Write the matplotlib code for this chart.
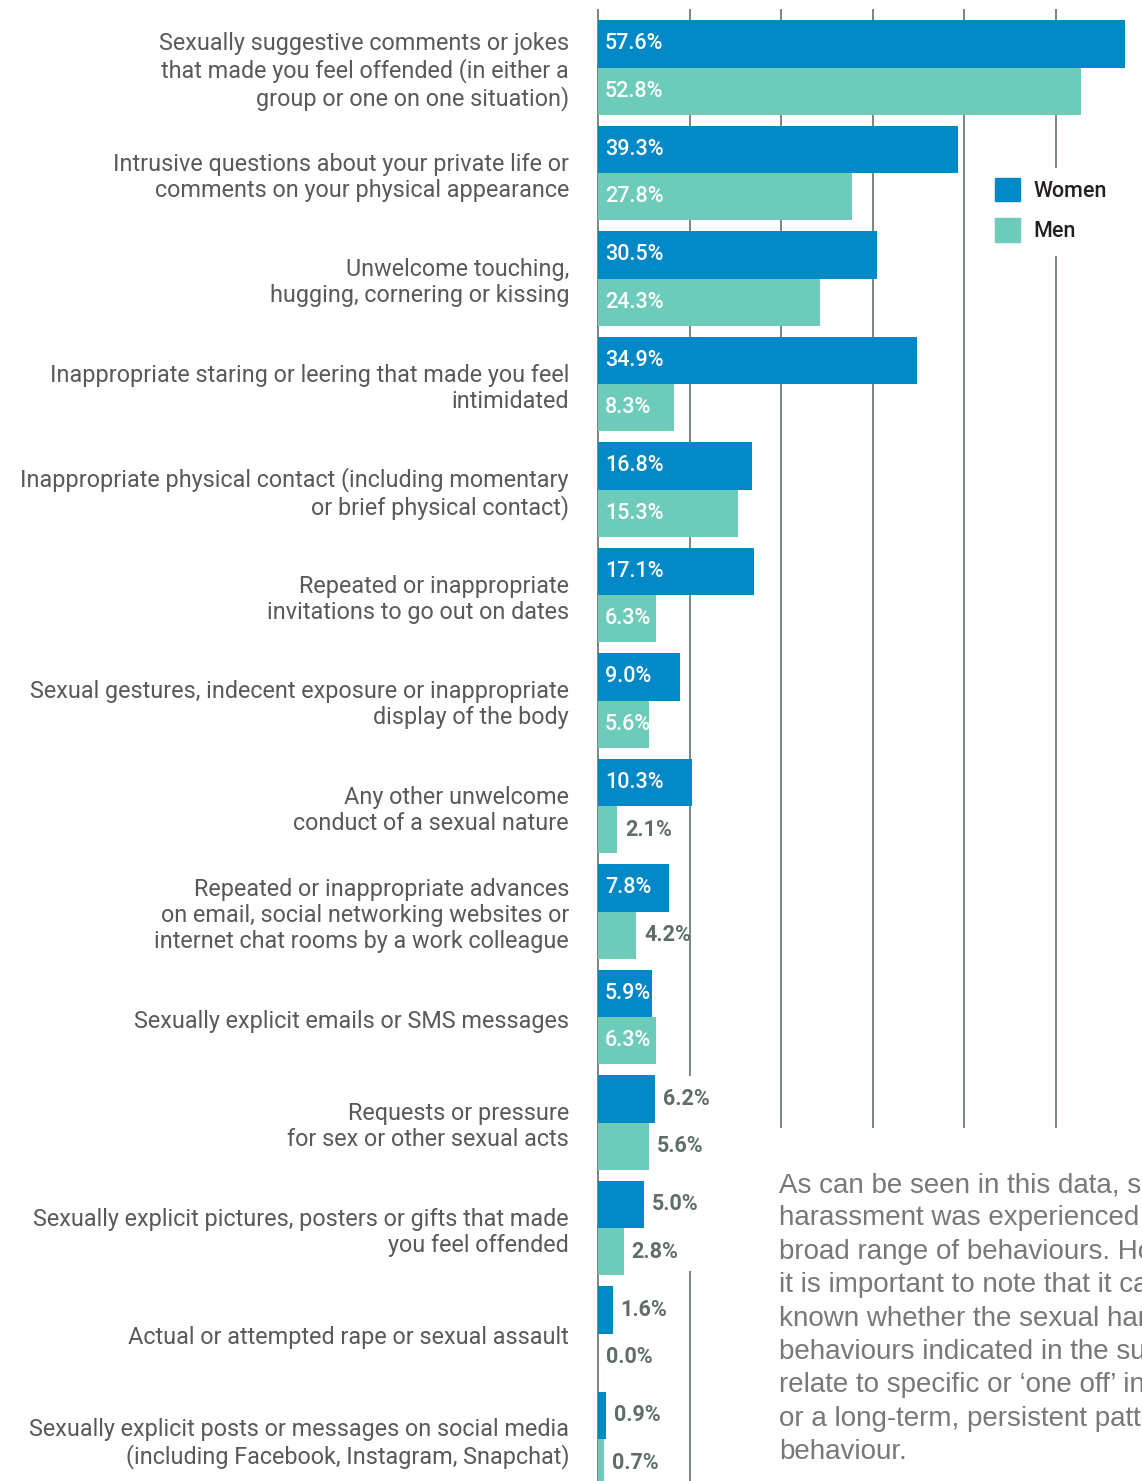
import matplotlib
matplotlib.use('Agg')
import numpy as np
import matplotlib.pyplot as plt
from matplotlib import font_manager
from matplotlib.patches import Patch

categorias = [
    "Sexually suggestive comments or jokes\nthat made you feel offended (in either a\ngroup or one on one situation)",
    "Intrusive questions about your private life or\ncomments on your physical appearance",
    "Unwelcome touching,\nhugging, cornering or kissing",
    "Inappropriate staring or leering that made you feel\nintimidated",
    "Inappropriate physical contact (including momentary\nor brief physical contact)",
    "Repeated or inappropriate\ninvitations to go out on dates",
    "Sexual gestures, indecent exposure or inappropriate\ndisplay of the body",
    "Any other unwelcome\nconduct of a sexual nature",
    "Repeated or inappropriate advances\non email, social networking websites or\ninternet chat rooms by a work colleague",
    "Sexually explicit emails or SMS messages",
    "Requests or pressure\nfor sex or other sexual acts",
    "Sexually explicit pictures, posters or gifts that made\nyou feel offended",
    "Actual or attempted rape or sexual assault",
    "Sexually explicit posts or messages on social media\n(including Facebook, Instagram, Snapchat)",
]
mujeres = [57.6, 39.3, 30.5, 34.9, 16.8, 17.1, 9.0, 10.3, 7.8, 5.9, 6.2, 5.0, 1.6, 0.9]
hombres = [52.8, 27.8, 24.3, 8.3, 15.3, 6.3, 5.6, 2.1, 4.2, 6.3, 5.6, 2.8, 0.0, 0.7]

# etiquetas que van dentro de la barra (en blanco) como en el original
dentro_mujeres = [True] * 10 + [False] * 4
dentro_hombres = [True] * 7 + [False, False, True, False, False, False, False]

parrafo = [
    "As can be seen in this data, sexual",
    "harassment was experienced across a",
    "broad range of behaviours. However,",
    "it is important to note that it cannot be",
    "known whether the sexual harassment",
    "behaviours indicated in the survey",
    "relate to specific or \u2018one off\u2019 incidents",
    "or a long-term, persistent pattern of",
    "behaviour.",
]

azul = '#0088c7'
verde = '#6dcbb9'
gris_texto = '#58595b'
gris_valor = '#5e6e66'
gris_linea = '#6f7d78'

nombres = {f.name for f in font_manager.fontManager.ttflist}
fuente = [n for n in ['Roboto', 'Noto Sans'] if n in nombres] + ['DejaVu Sans']
fuente_parrafo = [n for n in ['Liberation Sans', 'Open Sans'] if n in nombres] + ['DejaVu Sans']

# escala en pixeles de la imagen original
W, H = 1142, 1481
X0 = 598          # posicion del 0%
PX = 9.15         # pixeles por punto porcentual
Y0 = 67.5         # centro del primer grupo
PASO = 105.5      # distancia entre grupos


def px_x(px):
    return (px - X0) / PX


def px_y(py):
    return (py - Y0) / PASO


fig = plt.figure(figsize=(W / 100, H / 100), dpi=100)
ax = fig.add_axes([0, 0, 1, 1])
ax.set_xlim(px_x(0), px_x(W))
ax.set_ylim(px_y(H), px_y(0))
ax.axis('off')

y = np.arange(len(categorias))
alto = 0.45

# lineas de la cuadricula (cortadas donde estan la leyenda, el texto y las etiquetas)
ax.vlines(0, px_y(9), px_y(H), color=gris_linea, lw=1.3, zorder=0)
ax.vlines(10, px_y(9), px_y(1076), color=gris_linea, lw=1.3, zorder=0)
ax.vlines(10, px_y(1271), px_y(H), color=gris_linea, lw=1.3, zorder=0)
ax.vlines([20, 30, 40], px_y(9), px_y(1128), color=gris_linea, lw=1.3, zorder=0)
ax.vlines(50, px_y(9), px_y(168), color=gris_linea, lw=1.3, zorder=0)
ax.vlines(50, px_y(256), px_y(1128), color=gris_linea, lw=1.3, zorder=0)

ax.barh(y - alto / 2, mujeres, height=alto, color=azul, zorder=2)
ax.barh(y + alto / 2, hombres, height=alto, color=verde, zorder=2)

for i, cat in enumerate(categorias):
    ax.text(px_x(569), i + 0.04, cat, ha='right', va='center', fontsize=16.8,
            family=fuente, color=gris_texto, linespacing=1.16)

    for valores, dentro, yc in [(mujeres, dentro_mujeres, i - alto / 2),
                                (hombres, dentro_hombres, i + alto / 2)]:
        v = valores[i]
        if dentro[i]:
            ax.text(px_x(605), yc, f"{v:.1f}%", ha='left', va='center', fontsize=15.5,
                    family=fuente, color='white', fontweight='medium', zorder=3)
        else:
            ax.text(max(v + 8 / PX, px_x(606)), yc, f"{v:.1f}%", ha='left', va='center',
                    fontsize=15.5, family=fuente, color=gris_valor, fontweight='bold', zorder=3)

ax.legend(handles=[Patch(color=azul, label='Women'), Patch(color=verde, label='Men')],
          loc='upper left', bbox_to_anchor=(995 / W, 1 - 178 / H), frameon=False,
          borderpad=0, borderaxespad=0, handlelength=1.15, handleheight=1.3,
          handletextpad=0.65, labelspacing=0.75,
          prop={'family': fuente, 'size': 15.5, 'weight': 'medium'},
          labelcolor='#231f20')

for k, linea in enumerate(parrafo):
    ax.text(px_x(779), px_y(1185 + 33.4 * k), linea, ha='left', va='center',
            fontsize=20, family=fuente_parrafo, color='#77787b')

fig.savefig('out.png', dpi=100)
